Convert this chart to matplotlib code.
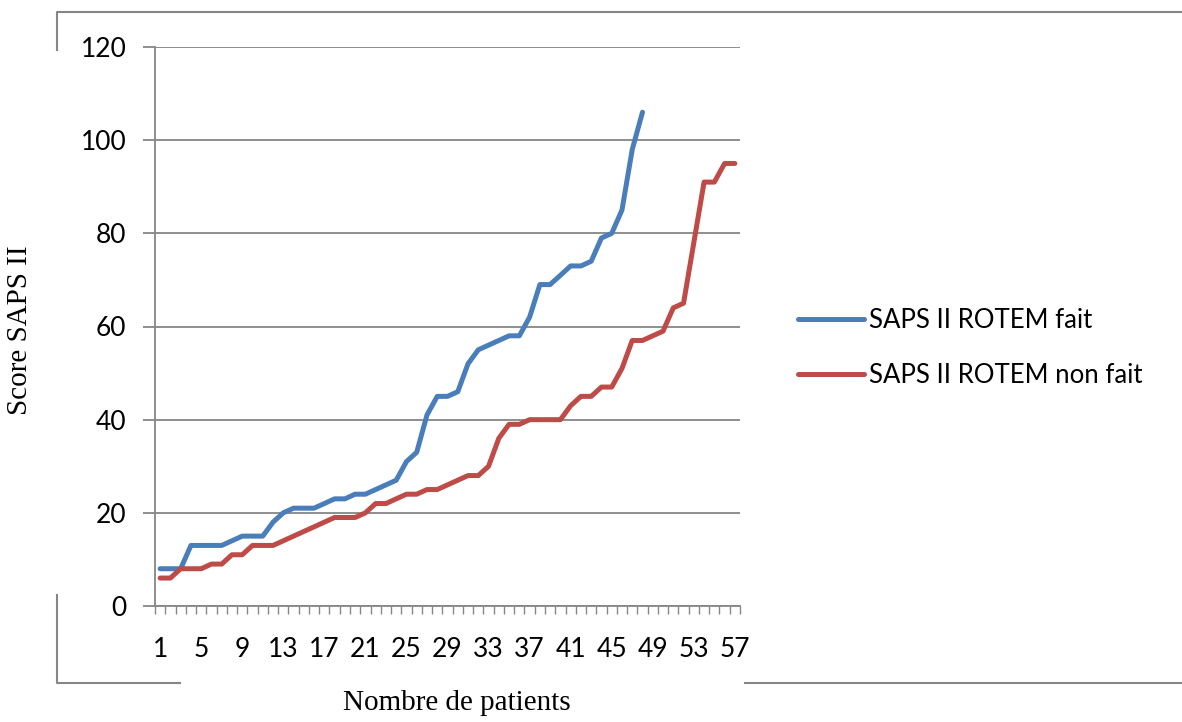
import matplotlib
matplotlib.use('Agg')
import matplotlib.pyplot as plt
from matplotlib.lines import Line2D
import numpy as np

# data
rotem_fait = [8, 8, 8, 13, 13, 13, 13, 14, 15, 15,
              15, 18, 20, 21, 21, 21, 22, 23, 23, 24,
              24, 25, 26, 27, 31, 33, 41, 45, 45, 46,
              52, 55, 56, 57, 58, 58, 62, 69, 69, 71,
              73, 73, 74, 79, 80, 85, 98, 106]
rotem_non_fait = [6, 6, 8, 8, 8, 9, 9, 11, 11, 13,
                  13, 13, 14, 15, 16, 17, 18, 19, 19, 19,
                  20, 22, 22, 23, 24, 24, 25, 25, 26, 27,
                  28, 28, 30, 36, 39, 39, 40, 40, 40, 40,
                  43, 45, 45, 47, 47, 51, 57, 57, 58, 59,
                  64, 65, 78, 91, 91, 95, 95]
labels = ['SAPS II ROTEM fait', 'SAPS II ROTEM non fait']
n_patients = 57
y_ticks = [0, 20, 40, 60, 80, 100, 120]

grey = '#868686'
sans = 'Lato'
serif = 'Liberation Serif'

fig = plt.figure(figsize=(11.82, 7.22), dpi=100)
ax = fig.add_axes([155/1182, 1 - 606/722, 585/1182, 559/722])

x1 = np.arange(1, len(rotem_fait) + 1)
x2 = np.arange(1, len(rotem_non_fait) + 1)
ax.plot(x1, rotem_fait, color='#4A7EBB', lw=3.6, solid_capstyle='round',
        solid_joinstyle='round', label=labels[0], zorder=3)
ax.plot(x2, rotem_non_fait, color='#BE4B48', lw=3.6, solid_capstyle='round',
        solid_joinstyle='round', label=labels[1], zorder=3)

ax.set_xlim(0.5, n_patients + 0.5)
ax.set_ylim(0, 120)
ax.set_yticks(y_ticks)
ax.yaxis.grid(True, color=grey, lw=1.3)
ax.set_axisbelow(True)

ax.set_xticks(np.arange(1, n_patients + 1, 4))
ax.set_xticks(np.arange(0.5, n_patients + 1, 1), minor=True)
ax.tick_params(axis='x', which='major', length=0, pad=22, labelsize=19)
ax.tick_params(axis='x', which='minor', length=6, width=1, color=grey, direction='out')
ax.tick_params(axis='y', length=8.5, width=1.3, color=grey, pad=12, labelsize=19)
for t in ax.get_xticklabels() + ax.get_yticklabels():
    t.set_family(sans)

for s in ['top', 'right']:
    ax.spines[s].set_visible(False)
for s in ['left', 'bottom']:
    ax.spines[s].set_color(grey)
    ax.spines[s].set_linewidth(1.3)

fig.text(20/1182, 1 - 330/722, 'Score SAPS II', rotation=90, family=serif,
         fontsize=21, ha='center', va='center')
fig.text(457/1182, 1 - 703/722, 'Nombre de patients', family=serif,
         fontsize=21, ha='center', va='center')

leg = fig.legend(loc='center left', bbox_to_anchor=(798/1182, 1 - 348/722),
                 frameon=False, prop={'family': sans, 'size': 18.5},
                 borderpad=0, borderaxespad=0,
                 handlelength=2.55, handletextpad=0.2, labelspacing=1.15)

# chart frame fragments
def frame_line(xs, ys):
    fig.add_artist(Line2D([x/1182 for x in xs], [1 - y/722 for y in ys],
                          color=grey, lw=1.5))

frame_line([57, 57, 1182], [50, 12, 12])
frame_line([57, 57, 180], [595, 683, 683])
frame_line([745, 1182], [683, 683])

plt.savefig('out.png', dpi=100)
